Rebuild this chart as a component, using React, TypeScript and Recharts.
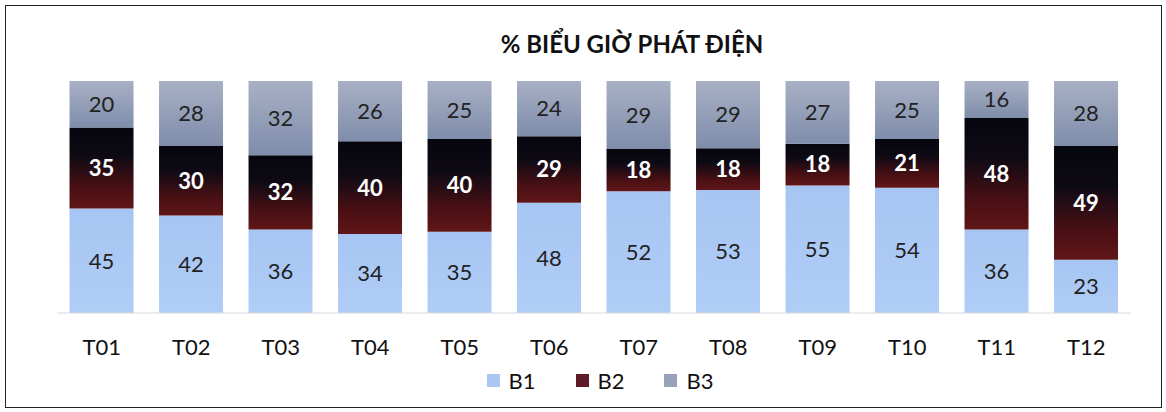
import React from "react";
import { Bar, BarChart, LabelList, Legend, XAxis, YAxis } from "recharts";

const months = ["T01", "T02", "T03", "T04", "T05", "T06", "T07", "T08", "T09", "T10", "T11", "T12"];
const b1 = [45, 42, 36, 34, 35, 48, 52, 53, 55, 54, 36, 23];
const b2 = [35, 30, 32, 40, 40, 29, 18, 18, 18, 21, 48, 49];
const b3 = [20, 28, 32, 26, 25, 24, 29, 29, 27, 25, 16, 28];

const legendItems = [
  { name: "B1", color: "#a9c7f2" },
  { name: "B2", color: "#5e1a26" },
  { name: "B3", color: "#99a2bb" },
];

const data = months.map((m, i) => ({ month: m, b1: b1[i], b2: b2[i], b3: b3[i] }));

const FONT = "Lato, 'Open Sans', sans-serif";

function LegendContent() {
  return (
    <div style={{ display: "flex", justifyContent: "center", gap: 40, fontFamily: FONT, fontSize: 22, color: "#111" }}>
      {legendItems.map((it) => (
        <div key={it.name} style={{ display: "flex", alignItems: "center" }}>
          <span style={{ display: "inline-block", width: 13, height: 13, background: it.color, marginRight: 9 }} />
          <span>{it.name}</span>
        </div>
      ))}
    </div>
  );
}

export default function App() {
  return (
    <div style={{ position: "absolute", left: 0, top: 0, width: 1166, height: 412, background: "#fff" }}>
      <div
        style={{
          position: "absolute",
          left: 5,
          top: 5,
          width: 1155,
          height: 401,
          border: "1.5px solid #222",
        }}
      />
      <div
        style={{
          position: "absolute",
          left: 0,
          top: 29,
          width: 1264,
          textAlign: "center",
          fontFamily: FONT,
          fontWeight: 700,
          fontSize: 24,
          color: "#111",
        }}
      >
        % BIỂU GIỜ PHÁT ĐIỆN
      </div>
      <div style={{ position: "absolute", left: 0, top: 0 }}>
        <BarChart
          width={1166}
          height={412}
          data={data}
          stackOffset="expand"
          barCategoryGap="14%"
          margin={{ top: 81, right: 35, left: 57, bottom: 43 }}
        >
          <defs>
            <linearGradient id="gB1" x1="0" y1="0" x2="0" y2="1">
              <stop offset="0%" stopColor="#a6c5f2" />
              <stop offset="100%" stopColor="#b0cdf6" />
            </linearGradient>
            <linearGradient id="gB2" x1="0" y1="0" x2="0" y2="1">
              <stop offset="0%" stopColor="#06060f" />
              <stop offset="35%" stopColor="#0e0a14" />
              <stop offset="75%" stopColor="#4a1014" />
              <stop offset="100%" stopColor="#601618" />
            </linearGradient>
            <linearGradient id="gB3" x1="0" y1="0" x2="0" y2="1">
              <stop offset="0%" stopColor="#a8b0c4" />
              <stop offset="100%" stopColor="#7f8dab" />
            </linearGradient>
          </defs>
          <XAxis
            dataKey="month"
            height={30}
            tickLine={false}
            tickSize={0}
            tickMargin={26}
            axisLine={{ stroke: "#d9d9d9" }}
            tick={{ fill: "#111", fontSize: 22, fontFamily: FONT }}
          />
          <YAxis hide domain={[0, 1]} />
          <Legend content={<LegendContent />} wrapperStyle={{ top: 367, left: 0, width: 1200, height: 26 }} />
          <Bar dataKey="b1" name="B1" stackId="a" fill="url(#gB1)" isAnimationActive={false}>
            <LabelList dataKey="b1" position="center" fill="#222" fontSize={22} fontFamily={FONT} />
          </Bar>
          <Bar dataKey="b2" name="B2" stackId="a" fill="url(#gB2)" isAnimationActive={false}>
            <LabelList dataKey="b2" position="center" fill="#fff" fontSize={22} fontWeight={700} fontFamily={FONT} />
          </Bar>
          <Bar dataKey="b3" name="B3" stackId="a" fill="url(#gB3)" isAnimationActive={false}>
            <LabelList dataKey="b3" position="center" fill="#222" fontSize={22} fontFamily={FONT} />
          </Bar>
        </BarChart>
      </div>
    </div>
  );
}
